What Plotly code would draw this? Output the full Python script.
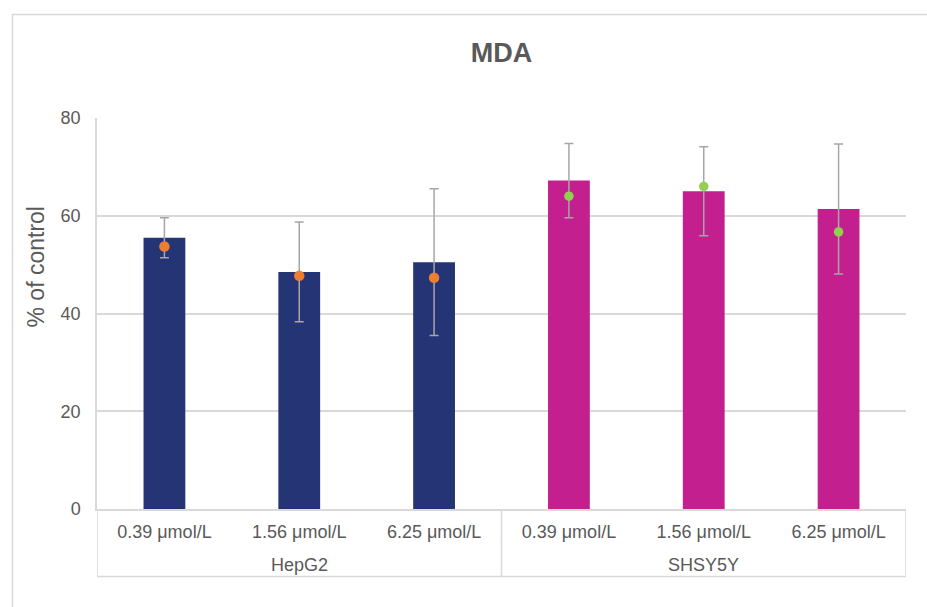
import plotly.graph_objects as go

# Data
cell_lines = ["HepG2", "HepG2", "HepG2", "SHSY5Y", "SHSY5Y", "SHSY5Y"]
doses = ["0.39 μmol/L", "1.56 μmol/L", "6.25 μmol/L",
         "0.39 μmol/L", "1.56 μmol/L", "6.25 μmol/L"]
mean_pct = [55.5, 48.5, 50.5, 67.2, 65.0, 61.4]
sd_pct = [4.1, 10.2, 15.0, 7.6, 9.1, 13.3]
point_pct = [53.7, 47.7, 47.3, 64.0, 66.0, 56.7]

bar_colors = ["#243474"] * 3 + ["#C31F8E"] * 3
dot_colors = ["#ED7D31"] * 3 + ["#92D050"] * 3
dot_sizes = [10.5] * 3 + [9.5] * 3

y_ticks = [0, 20, 40, 60, 80]

FONT = "Liberation Sans, Arial, sans-serif"
TEXT = "#595959"
GRID = "#D9D9D9"

W, H = 927, 607
ML, MR, MT, MB = 97, 21, 118, 98
PW, PH = W - ML - MR, H - MT - MB


def px_to_paper_x(px):
    return (px - ML) / PW


def px_to_paper_y(py):
    return (H - MB - py) / PH


# category positions along the x axis
xpos = list(range(len(doses)))

# groups of consecutive categories sharing a cell line
groups = []
for i, name in enumerate(cell_lines):
    if groups and groups[-1][0] == name:
        groups[-1][2] = i
    else:
        groups.append([name, i, i])

fig = go.Figure()
fig.add_trace(go.Bar(
    x=xpos, y=mean_pct,
    marker=dict(color=bar_colors, line=dict(width=0)),
    width=0.31,
    showlegend=False, hoverinfo="y",
))
# error bars on the bar means, kept in their own trace so the dots sit on top
fig.add_trace(go.Scatter(
    x=xpos, y=mean_pct, mode="markers",
    marker=dict(size=1, opacity=0),
    error_y=dict(type="data", array=sd_pct, visible=True,
                 color="#A6A6A6", thickness=1.5, width=4.5),
    showlegend=False, hoverinfo="skip",
))
fig.add_trace(go.Scatter(
    x=xpos, y=point_pct, mode="markers",
    marker=dict(color=dot_colors, size=dot_sizes, opacity=1,
                line=dict(width=0)),
    showlegend=False, hoverinfo="y",
))

box_bottom = px_to_paper_y(576.5)
shapes = [
    # bottom edge of the category label box
    dict(type="line", xref="paper", yref="paper",
         x0=0, x1=1, y0=box_bottom, y1=box_bottom,
         line=dict(color=GRID, width=1.5)),
    # chart area border
    dict(type="rect", xref="paper", yref="paper", layer="below",
         x0=px_to_paper_x(12.5), x1=px_to_paper_x(940),
         y0=px_to_paper_y(625), y1=px_to_paper_y(14.5),
         line=dict(color=GRID, width=1.5)),
]
annotations = [dict(
    text="% of control", textangle=-90,
    xref="paper", yref="paper",
    x=px_to_paper_x(35), y=px_to_paper_y(267.5),
    xanchor="center", yanchor="middle", showarrow=False,
    font=dict(size=23, color=TEXT, family=FONT),
)]
for gi, (name, i0, i1) in enumerate(groups):
    # group dividers on the category box
    edges = [i0 - 0.5, i1 + 0.5] if gi == 0 else [i1 + 0.5]
    for e in edges:
        shapes.append(dict(type="line", xref="x", yref="paper",
                           x0=e, x1=e, y0=0, y1=box_bottom,
                           line=dict(color=GRID, width=1.5)))
    annotations.append(dict(
        text=name, xref="x", yref="paper",
        x=(i0 + i1) / 2, y=px_to_paper_y(565),
        xanchor="center", yanchor="middle", showarrow=False,
        font=dict(size=18, color=TEXT, family=FONT),
    ))

fig.update_layout(
    width=W, height=H,
    margin=dict(l=ML, r=MR, t=MT, b=MB),
    paper_bgcolor="white", plot_bgcolor="white",
    font=dict(family=FONT, color=TEXT, size=18),
    title=dict(text="<b>MDA</b>", x=0.5, xref="paper", xanchor="center",
               y=1 - 52.5 / H, yref="container", yanchor="middle",
               font=dict(size=27, color=TEXT, family=FONT)),
    xaxis=dict(
        range=[-0.5, len(doses) - 0.5],
        tickvals=xpos, ticktext=doses,
        showline=True, linecolor=GRID, linewidth=1.5,
        showgrid=False, zeroline=False, ticks="",
        ticklabelstandoff=6,
        tickfont=dict(size=18, color=TEXT, family=FONT),
    ),
    yaxis=dict(
        range=[0, 80], tickvals=y_ticks,
        showgrid=True, gridcolor=GRID, gridwidth=1.5,
        showline=True, linecolor=GRID, linewidth=1.5,
        zeroline=False, ticks="",
        ticklabelstandoff=11,
        tickfont=dict(size=18, color=TEXT, family=FONT),
    ),
    annotations=annotations,
    shapes=shapes,
)

fig.write_html("out.html")
